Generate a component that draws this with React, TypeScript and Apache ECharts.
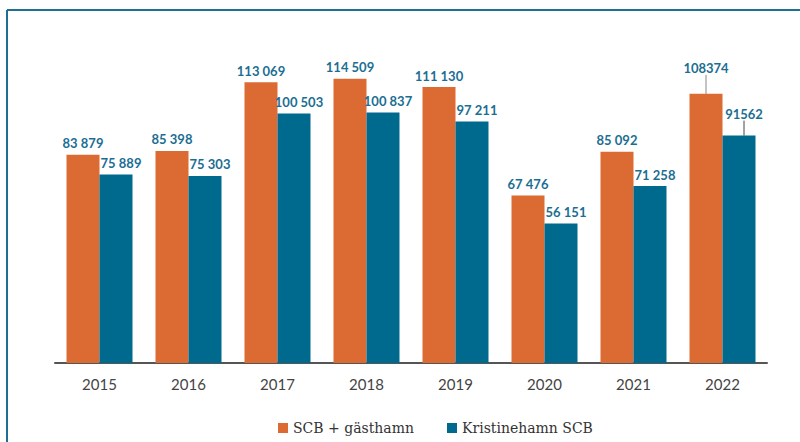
import React, { useEffect, useRef } from "react";
import * as echarts from "echarts";

const years = ["2015", "2016", "2017", "2018", "2019", "2020", "2021", "2022"];
const scbGasthamn = [83879, 85398, 113069, 114509, 111130, 67476, 85092, 108374];
const kristinehamnScb = [75889, 75303, 100503, 100837, 97211, 56151, 71258, 91562];
const seriesNames = ["SCB + gästhamn", "Kristinehamn SCB"];
// labels of the last year are printed without thousands separator and with leader lines
const plainLabelIndex = 7;

const ORANGE = "#DC6B33";
const TEAL = "#00698E";
const LABEL = "#1B6E92";

function fmt(v: number, idx: number) {
  if (idx === plainLabelIndex) return String(v);
  return String(v).replace(/\B(?=(\d{3})+(?!\d))/g, " ");
}

function withLeader(values: number[], color: string) {
  return values.map((v, i) =>
    i === plainLabelIndex
      ? { value: v, labelLine: { show: true, lineStyle: { color, width: 1 } } }
      : v
  );
}

export default function App() {
  const ref = useRef<HTMLDivElement>(null);
  useEffect(() => {
    if (!ref.current) return;
    const chart = echarts.init(ref.current, null, { renderer: "svg" });
    const labelBase = {
      show: true,
      position: "top",
      distance: 5,
      color: LABEL,
      fontFamily: "Lato, 'Open Sans', sans-serif",
      fontWeight: "bold",
      fontSize: 13,
      formatter: (p: any) => fmt(p.value, p.dataIndex),
    };
    chart.setOption({
      animation: false,
      backgroundColor: "#ffffff",
      grid: { left: 55, right: 33, top: 65, bottom: 79 },
      legend: {
        data: seriesNames,
        top: 416,
        left: 273,
        itemWidth: 10,
        itemHeight: 10,
        itemGap: 33,
        icon: "rect",
        textStyle: {
          fontSize: 14,
          color: "#333",
          fontFamily: "'DejaVu Serif', 'Liberation Serif', serif",
        },
      },
      xAxis: {
        type: "category",
        data: years,
        axisTick: { show: false },
        axisLine: { lineStyle: { color: "#555", width: 2 } },
        axisLabel: {
          margin: 13,
          fontSize: 15,
          color: "#444",
          fontFamily: "Lato, 'Open Sans', sans-serif",
        },
      },
      yAxis: {
        type: "value",
        min: 0,
        max: 120000,
        show: false,
        splitLine: { show: false },
      },
      graphic: [
        {
          type: "line",
          shape: { x1: 7, y1: 10, x2: 800, y2: 10 },
          style: { stroke: "#1F6F93", lineWidth: 2 },
        },
        {
          type: "line",
          shape: { x1: 7, y1: 10, x2: 7, y2: 442 },
          style: { stroke: "#1F6F93", lineWidth: 2 },
        },
      ],
      series: [
        {
          name: seriesNames[0],
          type: "bar",
          data: withLeader(scbGasthamn, "#888"),
          barWidth: 33,
          barGap: "0%",
          itemStyle: { color: ORANGE },
          label: labelBase,
          labelLayout: (p: any) =>
            p.dataIndex === plainLabelIndex ? { dy: -14 } : {},
        },
        {
          name: seriesNames[1],
          type: "bar",
          data: withLeader(kristinehamnScb, "#444"),
          barWidth: 33,
          barGap: "0%",
          itemStyle: { color: TEAL },
          label: labelBase,
          labelLayout: (p: any) =>
            p.dataIndex === plainLabelIndex ? { dy: -10, dx: 5 } : { dx: 5 },
        },
      ],
    });
    return () => chart.dispose();
  }, []);
  return (
    <div
      ref={ref}
      style={{ position: "fixed", left: 0, top: 0, width: 800, height: 442 }}
    />
  );
}
